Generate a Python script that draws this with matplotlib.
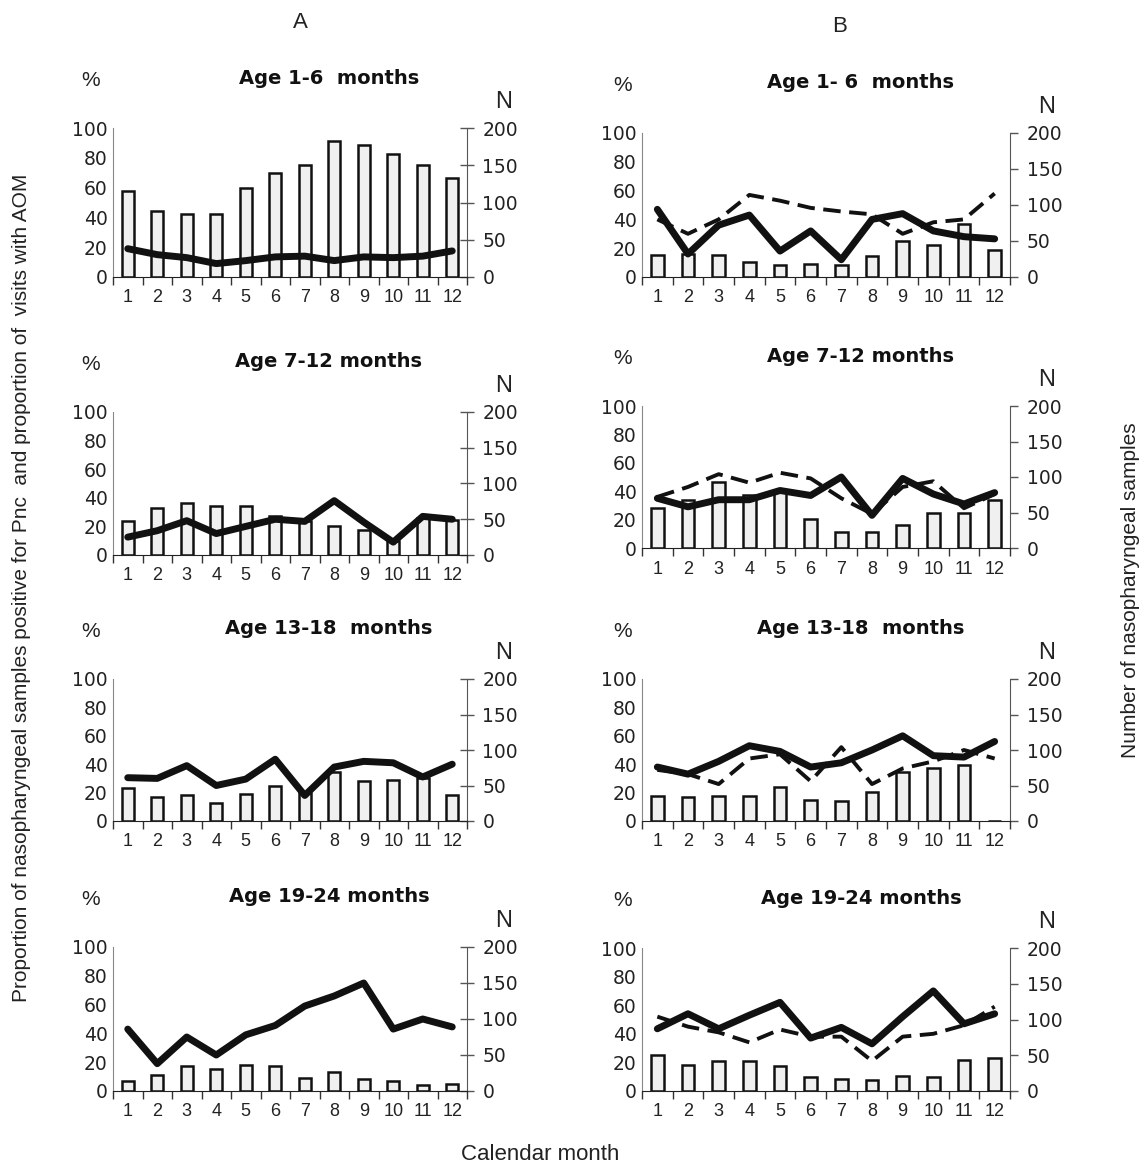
import numpy as np
import matplotlib
matplotlib.use("Agg")
import matplotlib.pyplot as plt
from matplotlib.ticker import FixedLocator, NullFormatter

plt.rcParams['font.family'] = ['Liberation Sans', 'DejaVu Sans']
WIDE = ['DejaVu Sans']

months = list(range(1, 13))
month_labels = [str(m) for m in months]

titles_a = ["Age 1-6  months", "Age 7-12 months", "Age 13-18  months", "Age 19-24 months"]
titles_b = ["Age 1- 6  months", "Age 7-12 months", "Age 13-18  months", "Age 19-24 months"]

# column A: number of samples (bars, right axis) and % Pnc positive (solid line, left axis)
n_a1 = [116, 88, 85, 85, 120, 140, 150, 182, 177, 165, 151, 133]
pnc_a1 = [19, 15, 13, 9, 11, 13.5, 14, 11, 13.5, 13, 14, 17.5]
n_a2 = [48, 66, 73, 69, 68, 54, 48, 40, 35, 20, 52, 49]
pnc_a2 = [12.5, 17, 24, 15, 20, 25, 23.5, 38, 23, 9, 27, 25]
n_a3 = [46, 34, 36, 25, 38, 49, 40, 69, 57, 58, 60, 37]
pnc_a3 = [30.5, 30, 39, 25, 29.5, 43.5, 18, 38, 42, 41, 31, 40]
n_a4 = [14, 22, 35, 30, 36, 35, 18, 26, 16, 14, 8, 10]
pnc_a4 = [43, 19, 37.5, 25, 39, 45.5, 59, 66, 75, 43, 50, 44.5]

# column B: number of samples (bars), % Pnc positive (solid), % visits with AOM (dashed)
n_b1 = [30, 32, 31, 21, 17, 18, 17, 29, 50, 44, 74, 38]
pnc_b1 = [47, 16, 36, 43, 18, 32, 12, 40, 44, 32, 28, 26.5]
aom_b1 = [40, 30, 40, 57, 53, 48, 45.5, 43.5, 30, 38, 40, 58]
n_b2 = [56, 67, 93, 75, 80, 41, 22, 22, 33, 50, 50, 67]
pnc_b2 = [35, 29, 34, 34, 40.5, 37, 50, 23, 49, 38, 31, 39]
aom_b2 = [36, 43, 52, 46, 53, 49, 35, 24, 43, 47, 28, 38]
n_b3 = [35, 34, 35, 35, 48, 30, 28, 41, 69, 75, 79, 0]
pnc_b3 = [38, 33, 42, 53, 49, 38, 41, 50, 60, 46, 45, 56]
aom_b3 = [36, 33, 26, 44, 47, 28, 52, 26, 37, 42, 50, 44]
n_b4 = [50, 37, 42, 42, 35, 20, 17, 16, 21, 20, 43, 46]
pnc_b4 = [43.5, 54, 43.5, 53, 62, 37, 44.5, 33, 52, 70, 47, 54]
aom_b4 = [52, 45, 41, 34, 43, 38, 38, 21, 38, 40, 46, 59]

W, H = 1146, 1171
fig = plt.figure(figsize=(W / 100, H / 100), dpi=100)


def px_axes(left, top, right, bottom):
    return fig.add_axes([left / W, 1 - bottom / H, (right - left) / W, (bottom - top) / H])


def panel(rect, title, title_x, nvals, pnc, aom=None, col_a=True):
    ax = px_axes(*rect)
    ax2 = ax.twinx()
    x = np.array(months)
    ax2.bar(x, nvals, width=0.42, color='#f0f0f0', edgecolor='#111111', linewidth=1.8, zorder=1)
    ax2.set_ylim(0, 200)
    ax2.set_yticks([0, 50, 100, 150, 200])
    # lines on the % axis, drawn above the bars
    ax.set_zorder(ax2.get_zorder() + 1)
    ax.patch.set_visible(False)
    if aom is not None:
        ax.plot(x, aom, color='#111111', lw=2.8, ls=(0, (4.5, 2.2)))
    ax.plot(x, pnc, color='#111111', lw=5, solid_joinstyle='round', solid_capstyle='round')
    ax.set_ylim(0, 100)
    ax.set_xlim(0.5, 12.5)
    ax.set_yticks([0, 20, 40, 60, 80, 100])
    ax.set_xticks(months)
    ax.set_xticklabels(month_labels)
    ax.xaxis.set_minor_locator(FixedLocator(np.arange(0.5, 13, 1)))
    ax.xaxis.set_minor_formatter(NullFormatter())
    ax.tick_params(axis='x', which='major', length=0, pad=9, labelsize=13, labelcolor='#222222')
    ax.tick_params(axis='x', which='minor', length=6, width=1, direction='out', color='#333333')
    ax.tick_params(axis='y', length=0, pad=4, labelsize=13.5, labelcolor='#222222')
    ax2.tick_params(axis='y', length=10 if col_a else 6,
                    direction='inout' if col_a else 'out',
                    width=1, color='#555555', pad=6, labelsize=13.5, labelcolor='#222222')
    for lab in ax.get_yticklabels() + ax2.get_yticklabels():
        lab.set_family(WIDE)
    for a in (ax, ax2):
        a.spines['top'].set_visible(False)
    ax.spines['left'].set_color('#888888')
    ax2.spines['left'].set_visible(False)
    ax.spines['right'].set_visible(False)
    ax2.spines['right'].set_color('#555555')
    ax.spines['bottom'].set_color('#222222')
    ax2.spines['bottom'].set_visible(False)
    ax.annotate(title, xy=(title_x, 1), xycoords='axes fraction', xytext=(0, 36),
                textcoords='offset points', ha='center', va='center',
                fontsize=14, fontweight='bold', color='#111111', family=WIDE)
    ax.annotate('%', xy=(0, 1), xycoords='axes fraction', xytext=(-16 if col_a else -14, 34),
                textcoords='offset points', ha='center', va='center',
                fontsize=15, color='#222222')
    ax.annotate('N', xy=(1, 1), xycoords='axes fraction', xytext=(26, 19),
                textcoords='offset points', ha='center', va='center',
                fontsize=17, color='#222222')
    return ax


rows_a = [(113, 128, 467, 277), (113, 412, 467, 555), (113, 679, 467, 821), (113, 947, 467, 1091)]
rows_b = [(642, 133, 1010, 277), (642, 406, 1010, 548), (642, 679, 1010, 821), (642, 948, 1010, 1091)]

a_data = [(n_a1, pnc_a1), (n_a2, pnc_a2), (n_a3, pnc_a3), (n_a4, pnc_a4)]
b_data = [(n_b1, pnc_b1, aom_b1), (n_b2, pnc_b2, aom_b2), (n_b3, pnc_b3, aom_b3), (n_b4, pnc_b4, aom_b4)]

for i in range(4):
    panel(rows_a[i], titles_a[i], 0.61, a_data[i][0], a_data[i][1], col_a=True)
    panel(rows_b[i], titles_b[i], 0.595, b_data[i][0], b_data[i][1], b_data[i][2], col_a=False)

fig.text(300 / W, 1 - 22 / H, 'A', ha='center', va='center', fontsize=16, color='#222222')
fig.text(840 / W, 1 - 26 / H, 'B', ha='center', va='center', fontsize=16, color='#222222')
fig.text(540 / W, 1 - 1155 / H, 'Calendar month', ha='center', va='center', fontsize=16,
         color='#222222')
fig.text(22 / W, 1 - 588 / H,
         'Proportion of nasopharyngeal samples positive for Pnc  and proportion of  visits with AOM',
         rotation=90, ha='center', va='center', fontsize=15, color='#222222')
fig.text(1130 / W, 1 - 590 / H, 'Number of nasopharyngeal samples', rotation=90,
         ha='center', va='center', fontsize=15, color='#222222')

fig.savefig('out.png', dpi=100, facecolor='white')
